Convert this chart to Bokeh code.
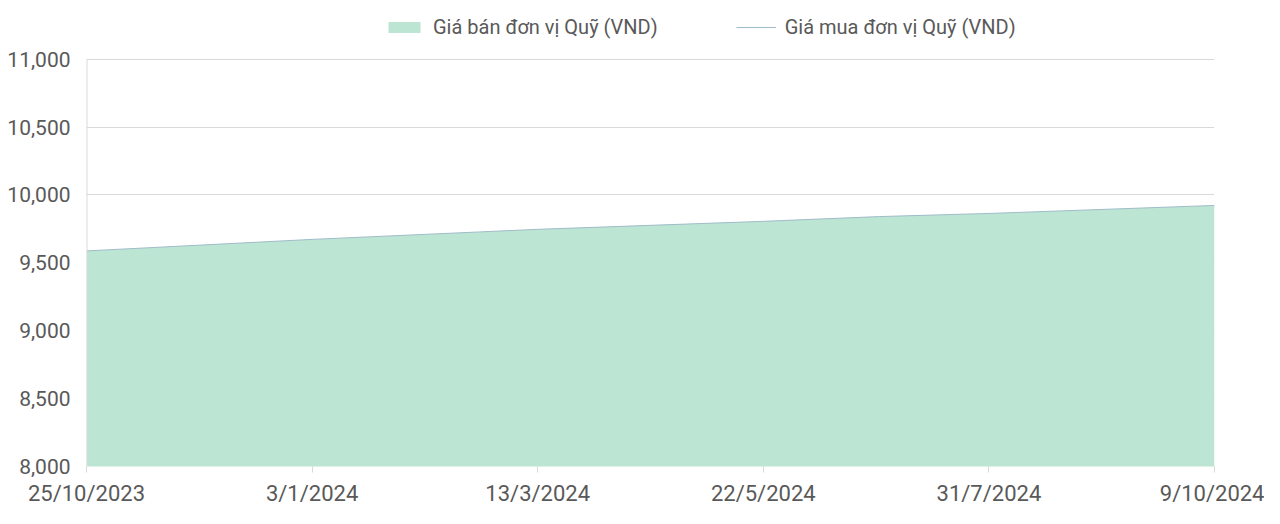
import pandas as pd
from bokeh.plotting import figure
from bokeh.models import (Range1d, FixedTicker, NumeralTickFormatter, Legend, LegendItem,
                          ColumnDataSource)
from bokeh.embed import file_html
from bokeh.resources import INLINE

# ---- data ----
dates = ["2023-10-25", "2024-01-03", "2024-02-24", "2024-03-13",
         "2024-05-22", "2024-06-27", "2024-07-31", "2024-10-09"]
sell_price = [9588, 9673, 9728, 9747, 9806, 9841, 9864, 9923]
buy_price = [9588, 9673, 9728, 9747, 9806, 9841, 9864, 9923]
tick_dates = ["2023-10-25", "2024-01-03", "2024-03-13", "2024-05-22", "2024-07-31", "2024-10-09"]
tick_labels = ["25/10/2023", "3/1/2024", "13/3/2024", "22/5/2024", "31/7/2024", "9/10/2024"]
y_ticks = [8000, 8500, 9000, 9500, 10000, 10500, 11000]
series_names = ["Giá bán đơn vị Quỹ (VND)", "Giá mua đơn vị Quỹ (VND)"]

FONT = "Roboto"
TXT = "#595959"
GRID = "#d9d9d9"

FIG_W, FIG_H = 1264, 508
BORDER_L, BORDER_R, BORDER_B = 86, 50, 40
AXIS_TOP_PX = 59          # where the top value sits, from the top of the figure
frame_h = FIG_H - BORDER_B
y_lo, y_hi = y_ticks[0], y_ticks[-1]
y_end = y_lo + (y_hi - y_lo) * frame_h / (frame_h - AXIS_TOP_PX)   # room above for the legend

x = pd.to_datetime(dates)
src = ColumnDataSource(dict(x=x, sell=sell_price, buy=buy_price, base=[0] * len(dates)))

tick_ms = [pd.Timestamp(d).value / 1e6 for d in tick_dates]

p = figure(width=FIG_W, height=FIG_H, x_axis_type="datetime",
           x_range=Range1d(tick_ms[0], tick_ms[-1]),
           y_range=Range1d(y_lo, y_end),
           output_backend="svg", toolbar_location=None,
           min_border_left=BORDER_L, min_border_right=BORDER_R,
           min_border_top=0, min_border_bottom=BORDER_B)
p.outline_line_color = None
p.background_fill_color = "white"
p.border_fill_color = "white"

area = p.varea(x="x", y1="base", y2="sell", source=src, fill_color="#bde5d3", fill_alpha=1.0)
line = p.line(x="x", y="buy", source=src, line_color="#9fbcc8", line_width=1)

# y axis line, only over the value range
p.segment(x0=[tick_ms[0]], y0=[y_lo], x1=[tick_ms[0]], y1=[y_hi], line_color=GRID, line_width=2)

# x axis
p.xaxis.ticker = FixedTicker(ticks=tick_ms)
p.xaxis.major_label_overrides = {t: lab for t, lab in zip(tick_ms, tick_labels)}
p.xaxis.axis_line_color = None
p.xaxis.major_tick_line_color = GRID
p.xaxis.major_tick_in = 0
p.xaxis.major_tick_out = 6
p.xaxis.minor_tick_line_color = None
p.xaxis.major_label_standoff = 8
p.xaxis.major_label_text_font = FONT
p.xaxis.major_label_text_font_size = "22px"
p.xaxis.major_label_text_color = TXT

# y axis
p.yaxis.ticker = FixedTicker(ticks=y_ticks)
p.yaxis.formatter = NumeralTickFormatter(format="0,0")
p.yaxis.axis_line_color = None
p.yaxis.major_tick_line_color = None
p.yaxis.major_tick_in = 0
p.yaxis.major_tick_out = 0
p.yaxis.minor_tick_line_color = None
p.yaxis.major_label_standoff = 16
p.yaxis.major_label_text_font = FONT
p.yaxis.major_label_text_font_size = "21px"
p.yaxis.major_label_text_color = TXT

p.xgrid.grid_line_color = None
p.ygrid.ticker = FixedTicker(ticks=y_ticks[1:])
p.ygrid.grid_line_color = GRID
p.ygrid.grid_line_width = 1

legend = Legend(items=[LegendItem(label=series_names[0], renderers=[area]),
                       LegendItem(label=series_names[1], renderers=[line])],
                location=(298, frame_h - 41), orientation="horizontal",
                padding=0, margin=0, spacing=78,
                glyph_width=40, glyph_height=14, label_standoff=9,
                label_text_font=FONT, label_text_font_size="20px", label_text_color=TXT,
                border_line_color=None, background_fill_alpha=0)
p.add_layout(legend, "center")

open("out.html", "w").write(file_html(p, INLINE))
